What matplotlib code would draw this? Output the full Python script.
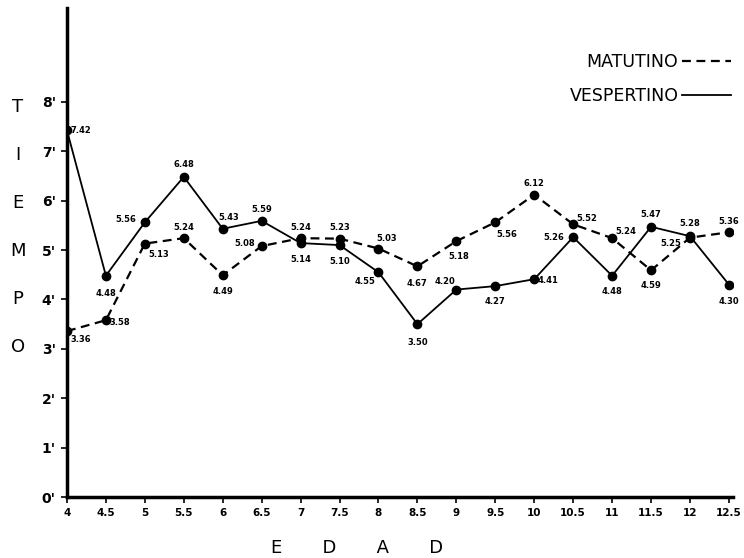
import matplotlib
matplotlib.use('Agg')
import matplotlib.pyplot as plt

# Edad (x) y tiempo en minutos (y)
edad = [4, 4.5, 5, 5.5, 6, 6.5, 7, 7.5, 8, 8.5, 9, 9.5, 10, 10.5, 11, 11.5, 12, 12.5]
matutino = [3.36, 3.58, 5.13, 5.24, 4.49, 5.08, 5.24, 5.23, 5.03, 4.67, 5.18, 5.56,
            6.12, 5.52, 5.24, 4.59, 5.25, 5.36]
vespertino = [7.42, 4.48, 5.56, 6.48, 5.43, 5.59, 5.14, 5.10, 4.55, 3.50, 4.20, 4.27,
              4.41, 5.26, 4.48, 5.47, 5.28, 4.30]
xtick_labels = ['4', '4.5', '5', '5.5', '6', '6.5', '7', '7.5', '8', '8.5', '9', '9.5',
                '10', '10.5', '11', '11.5', '12', '12.5']
yticks = [0, 1, 2, 3, 4, 5, 6, 7, 8]

# label offsets in points (dx, dy) - where each value label sits next to its marker
off_mat = [(10, -6), (10, -2), (10, -8), (0, 8), (0, -12), (-12, 2), (0, 8), (0, 8),
           (6, 7), (0, -12), (2, -11), (8, -9), (0, 8), (10, 4), (10, 5), (0, -11),
           (-14, -4), (0, 8)]
off_ves = [(10, 0), (0, -13), (-14, 2), (0, 9), (4, 8), (0, 8), (0, -12), (0, -12),
           (-10, -7), (0, -13), (-8, 6), (0, -11), (10, -1), (-14, 0), (0, -11),
           (0, 9), (0, 9), (0, -12)]

fig = plt.figure(figsize=(7.44, 5.58), dpi=100)
ax = fig.add_axes([0.090, 0.109, 0.895, 0.877])

ax.plot(edad, matutino, color='black', linestyle=(0, (4, 2.5)), linewidth=1.6,
        marker='o', markersize=6, label='MATUTINO')
ax.plot(edad, vespertino, color='black', linestyle='-', linewidth=1.3,
        marker='o', markersize=6, label='VESPERTINO')

for x, y, o in zip(edad, matutino, off_mat):
    ax.annotate('%.2f' % y, (x, y), xytext=o, textcoords='offset points',
                ha='center', va='center', fontsize=6, fontweight='bold')
for x, y, o in zip(edad, vespertino, off_ves):
    ax.annotate('%.2f' % y, (x, y), xytext=o, textcoords='offset points',
                ha='center', va='center', fontsize=6, fontweight='bold')

ax.set_xlim(4, 12.55)
ax.set_ylim(0, 9.9)
ax.set_xticks(edad)
ax.set_xticklabels(xtick_labels, fontsize=7.5, fontweight='bold')
ax.set_yticks(yticks)
ax.set_yticklabels(["%d'" % v for v in yticks], fontsize=10, fontweight='bold')
ax.tick_params(axis='both', direction='out', length=4, width=1.2, pad=4)

ax.spines['top'].set_visible(False)
ax.spines['right'].set_visible(False)
ax.spines['left'].set_linewidth(2.5)
ax.spines['bottom'].set_linewidth(2.5)

ax.set_ylabel('T\nI\nE\nM\nP\nO', rotation=0, fontsize=13, linespacing=3.15,
              va='center', ha='center')
ax.yaxis.set_label_coords(-0.074, 0.552)
ax.set_xlabel('E       D       A       D', fontsize=13)
ax.xaxis.set_label_coords(0.435, -0.085)

leg = ax.legend(loc='upper right', bbox_to_anchor=(1.02, 0.94), frameon=False,
                markerfirst=False, handlelength=2.8, fontsize=12.5, labelspacing=0.95,
                handletextpad=0.2)
for h in leg.legend_handles:
    h.set_marker('')

fig.savefig('out.png', dpi=100)
